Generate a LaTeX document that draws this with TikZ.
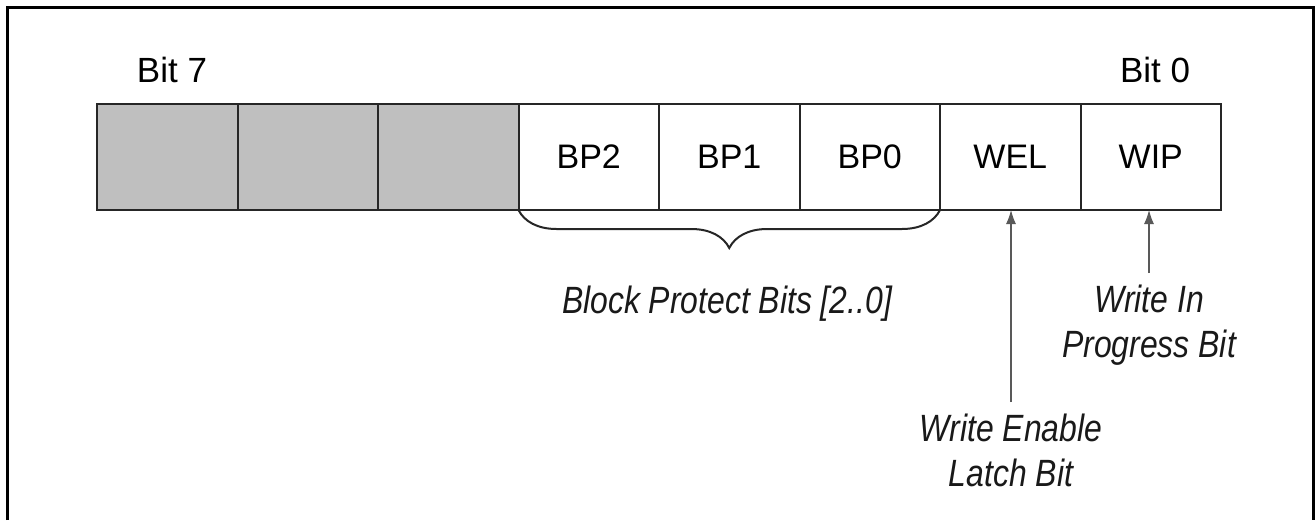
\documentclass[tikz,border=0pt]{standalone}
\usepackage{fontspec}
\setmainfont{Liberation Sans}
\newfontfamily\notefont{Liberation Sans}[FakeStretch=0.84]
\usetikzlibrary{arrows.meta,decorations.pathreplacing}

\begin{document}
\begin{tikzpicture}[x=0.5pt,y=-0.5pt,
  cell/.style={draw=black!85,line width=1pt,minimum width=70.25pt,minimum height=53pt,
    inner sep=0pt,outer sep=0pt,font=\fontsize{17}{20}\selectfont},
  bitlbl/.style={anchor=base,font=\fontsize{17.5}{20}\selectfont},
  note/.style={align=center,text=black!90,inner sep=6pt,
    font=\notefont\itshape\fontsize{19}{22.5}\selectfont},
  ptr/.style={draw=black!65,line width=0.6pt,-{Latex[length=7pt,width=5pt]}}]
  \useasboundingbox (0,0) rectangle (1316,520);
  % frame
  \draw[line width=1.5pt] (7,520) -- (7,7) -- (1313,7) -- (1313,520);
  % status register cells, bit 7 on the left
  \foreach \name [count=\i from 0] in {b7,b6,b5}
    \node[cell,fill=black!25] (\name) at (167.25+140.5*\i,157) {};
  \foreach \name/\txt [count=\i from 3] in {bp2/BP2,bp1/BP1,bp0/BP0,wel/WEL,wip/WIP}
    \node[cell] (\name) at (167.25+140.5*\i,157) {\txt};
  \node[bitlbl] (msb) at (172,82) {Bit 7};
  \node[bitlbl] (lsb) at (1155,82) {Bit 0};
  % block protect brace
  \draw[line width=1pt,black!85,decorate,decoration={brace,mirror,amplitude=19pt,aspect=0.5}]
    (bp2.south west) -- (bp0.south east);
  \node[note,anchor=base] (bplbl) at (727,313) {Block Protect Bits [2..0]};
  % pointers to WEL and WIP
  \node[note,anchor=north] (wellbl) at (1011,402) {Write Enable\\Latch Bit};
  \node[note,anchor=north] (wiplbl) at (1149,273) {Write In\\Progress Bit};
  \draw[ptr] (wellbl.north) -- (wellbl.north |- wel.south);
  \draw[ptr] (wiplbl.north) -- (wiplbl.north |- wip.south);
\end{tikzpicture}
\end{document}
